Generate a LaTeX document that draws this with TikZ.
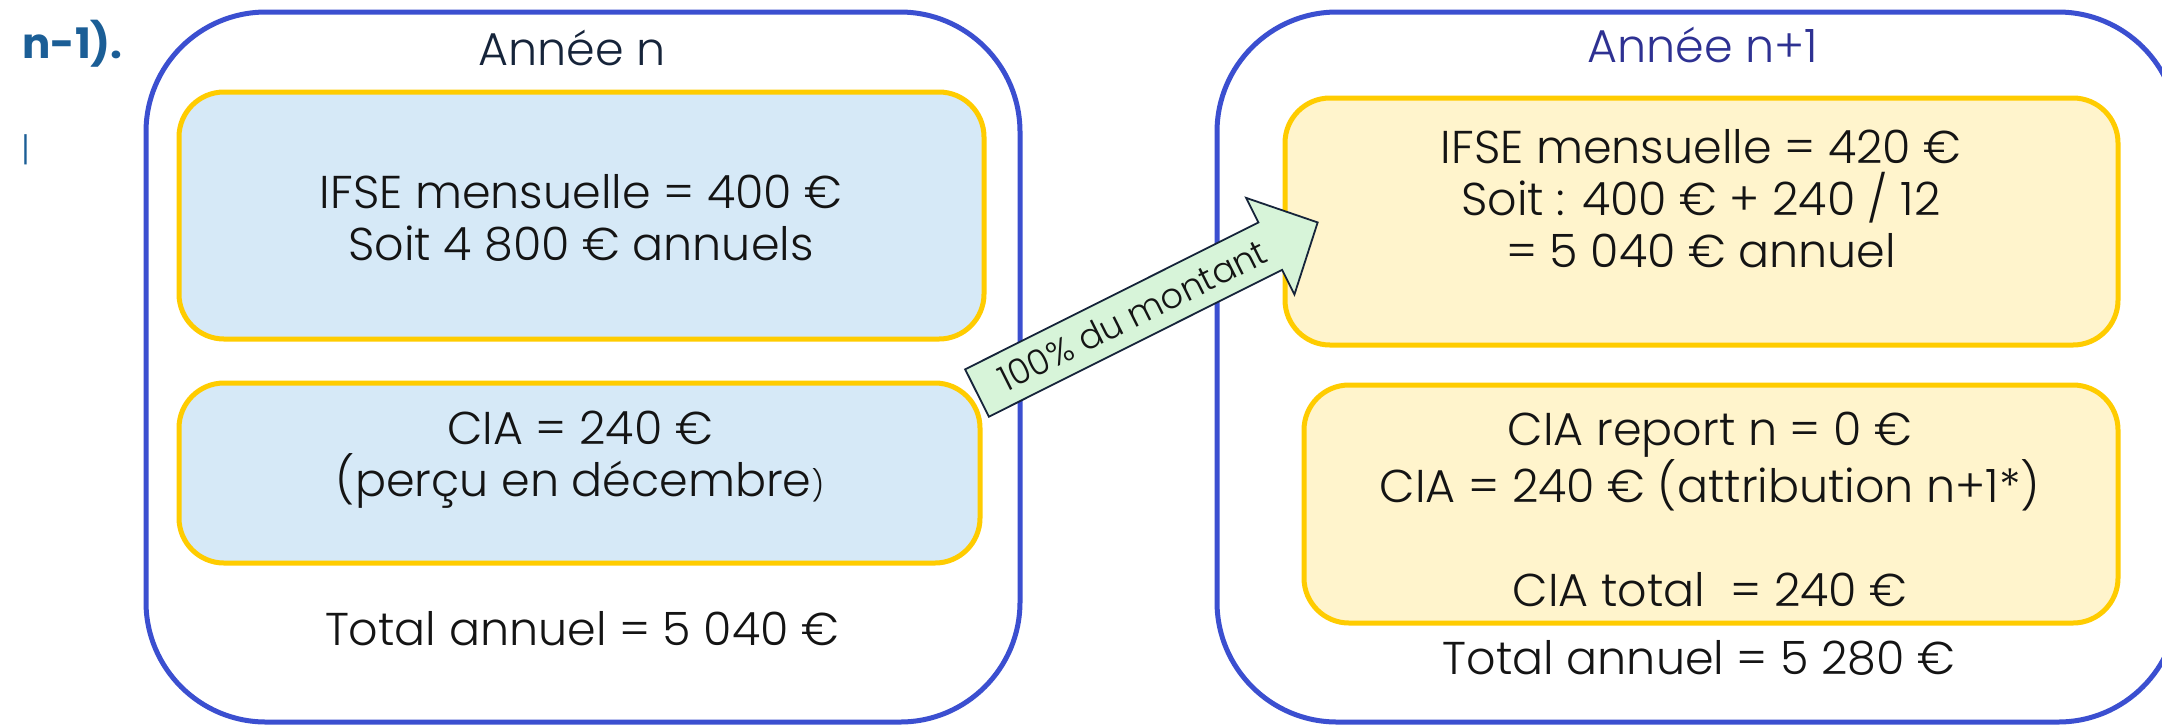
\documentclass[tikz,border=0pt]{standalone}
\usepackage{fontspec}
\setmainfont{Poppins}[UprightFont=* Light, BoldFont=* Bold]
\definecolor{boxblue}{RGB}{59,79,208}
\definecolor{gold}{RGB}{255,204,0}
\definecolor{paleblue}{RGB}{214,233,247}
\definecolor{paleyellow}{RGB}{255,244,204}
\definecolor{palegreen}{RGB}{215,244,217}
\definecolor{navy}{RGB}{22,36,58}
\definecolor{ink}{RGB}{20,20,20}
\definecolor{indigo}{RGB}{46,49,146}
\definecolor{titleblue}{RGB}{27,94,150}
\begin{document}
\begin{tikzpicture}[x=0.5pt,y=-0.5pt,
  outer/.style={draw=boxblue, line width=2.5pt, rounded corners=60pt, fill=white, inner sep=0pt},
  inbox/.style={draw=gold, line width=2.5pt, rounded corners=22.5pt, inner sep=0pt},
  txt/.style={align=center, text=ink, inner sep=0pt, font=\fontsize{23}{26}\selectfont},
  heading/.style={inner sep=0pt, font=\fontsize{23}{26}\selectfont}]
\clip (0,0) rectangle (2162,725);
\fill[white] (0,0) rectangle (2162,725);
% left column
\node[outer, minimum width=437pt, minimum height=355pt] (outL) at (583,367) {};
\node[heading, text=navy] (titL) at (572,48) {Année n};
\node[inbox, fill=paleblue, minimum width=402.5pt, minimum height=123.5pt] (a1) at (581.5,215.5) {};
\node[txt] (a1t) at (581,218) {IFSE mensuelle = 400 €\\Soit 4 800 € annuels};
\node[inbox, fill=paleblue, minimum width=400.5pt, minimum height=90pt] (a2) at (579.5,473) {};
\node[txt] (a2t) at (580,460) {CIA = 240 €\\(perçu en décembre{\fontsize{15}{15}\selectfont)}};
\node[txt] (totL) at (582,629) {Total annuel = 5 040 €};
% right column
\node[outer, minimum width=480.5pt, minimum height=355pt] (outR) at (1697.5,367) {};
\node[heading, text=indigo] (titR) at (1703,45) {Année n+1};
\node[inbox, fill=paleyellow, minimum width=416.5pt, minimum height=123.5pt] (b1) at (1701.5,221.5) {};
\node[txt] (b1t) at (1701,199) {IFSE mensuelle = 420 €\\Soit : 400 € + 240 / 12\\= 5 040 € annuel};
\node[inbox, fill=paleyellow, minimum width=407pt, minimum height=119pt] (b2) at (1711,504) {};
\node[txt] (b2t) at (1710,509.5) {CIA report n = 0 €\\CIA = 240 € (attribution n+1*)\\[26pt]CIA total~ = 240 €};
\node[txt] (totR) at (1699,658) {Total annuel = 5 280 €};
% block arrow
\begin{scope}[shift={(977,393)}, rotate=26.6]
\draw[draw=navy, line width=0.9pt, fill=palegreen, line join=miter]
  (0,26.5) -- (328,26.5) -- (328,54) -- (381,0) -- (328,-54) -- (328,-26.5) -- (0,-26.5) -- cycle;
\node[transform shape, text=ink, inner sep=0pt, font=\fontsize{17.5}{19}\selectfont] (lbl) at (174,0) {100\% du montant};
\end{scope}
% top-left fragments
\node[anchor=base west, inner sep=0pt, text=titleblue, font=\fontsize{21}{25}\selectfont\bfseries] (frag) at (22,58) {n-1).};
\node[inner sep=0pt, text=titleblue, font=\fontsize{17}{19}\selectfont] (bar) at (26,150) {|};
\end{tikzpicture}
\end{document}
